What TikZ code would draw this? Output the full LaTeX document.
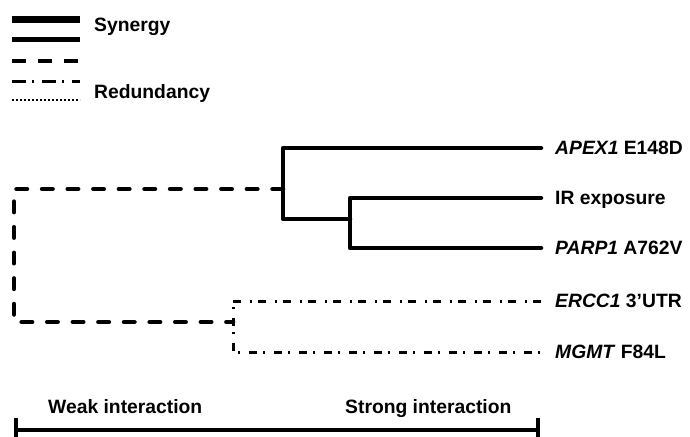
\documentclass[tikz,border=0pt]{standalone}
\usepackage{fontspec}
\setmainfont{Liberation Sans}
\begin{document}
\begin{tikzpicture}[x=1pt,y=-1pt,
  lbl/.style={font=\fontsize{19.3}{21}\selectfont\bfseries, inner sep=0pt, anchor=base west},
  syn/.style={line width=4.5pt, line join=round, line cap=round},
  synthick/.style={line width=7pt},
  dsh/.style={line width=4.5pt, line join=round, line cap=round, dash pattern=on 10.5pt off 15.1pt},
  dshdot/.style={line width=3pt, dash pattern=on 8pt off 6pt on 2pt off 9pt},
  dotl/.style={line width=2pt, dash pattern=on 2pt off 2pt},
  scalebar/.style={line width=4.5pt}]
\useasboundingbox (0,0) rectangle (690,436);
% legend
\coordinate (l1a) at (12,20); \coordinate (l1b) at (80,20);
\coordinate (l2a) at (12,40); \coordinate (l2b) at (80,40);
\coordinate (l3a) at (12,61); \coordinate (l3b) at (80,61);
\coordinate (l4a) at (12,81); \coordinate (l4b) at (80,81);
\coordinate (l5a) at (12,100); \coordinate (l5b) at (80,100);
\draw[synthick] (l1a) -- (l1b);
\draw[line width=5pt] (l2a) -- (l2b);
\draw[line width=4.5pt, dash pattern=on 14pt off 12pt] (l3a) -- (l3b);
\draw[line width=3pt, dash pattern=on 14pt off 6pt on 2pt off 8pt] (l4a) -- (l4b);
\draw[dotl] (l5a) -- (l5b);
\node[lbl] (synergy) at (94,32) {Synergy};
\node[lbl] (redund) at (94,98) {Redundancy};
% leaves
\node[lbl] (apex) at (555,154.5) {\textit{APEX1} E148D};
\node[lbl] (ir) at (555,204.5) {IR exposure};
\node[lbl] (parp) at (555,254.5) {\textit{PARP1} A762V};
\node[lbl] (ercc) at (555,307.5) {\textit{ERCC1} 3’UTR};
\node[lbl] (mgmt) at (555,358.5) {\textit{MGMT} F84L};
% line ends
\coordinate (eA) at (541,148);
\coordinate (eI) at (541,198);
\coordinate (eP) at (541,248);
\coordinate (eE) at (541,301);
\coordinate (eM) at (541,352);
% joins
\coordinate (jA) at (283,189);
\coordinate (jEM) at (233,322);
% solid clusters
\draw[syn] (eI) -- (350,198) -- (350,248) -- (eP);
\draw[syn] (eA) -- (283,148) -- (283,219) -- (350,219);
% dash-dot cluster
\draw[dshdot] (eE) -- (233,301) -- (233,352) -- (eM);
% dashed root
\draw[dsh] (jA) -- (14,189) -- (14,322) -- (jEM);
% scale bar
\coordinate (sbL) at (16,430);
\coordinate (sbR) at (538,430);
\draw[scalebar] (sbL) -- (sbR);
\draw[line width=4.5pt] (16,418) -- (16,440);
\draw[line width=4.5pt] (538,418) -- (538,440);
\node[lbl] (weak) at (48,413) {Weak interaction};
\node[lbl] (strong) at (345,413) {Strong interaction};
\end{tikzpicture}
\end{document}
